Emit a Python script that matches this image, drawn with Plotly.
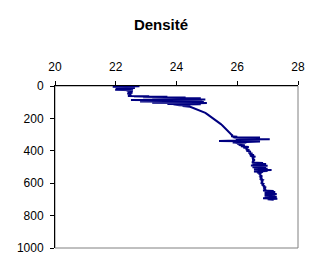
import plotly.graph_objects as go

depth = [0, 2, 4, 6, 9, 12, 15, 18, 21, 23, 26, 30, 34, 38, 42, 46, 50, 54, 58, 61,
         63, 65, 67, 69, 71, 73, 75, 77, 79, 81, 83, 85, 87, 89, 91, 93, 95, 97, 99, 101,
         103, 105, 107, 109, 111, 113, 115, 117, 119, 121, 124, 128, 132, 136, 142, 150,
         158, 166, 175, 185, 195, 205, 215, 225, 235, 245, 255, 265, 275, 285, 295, 302,
         306, 310, 313, 316, 318, 320, 323, 326, 329, 331, 334, 337, 340, 342, 344, 346,
         348, 350, 352, 355, 358, 361, 364, 368, 372, 376, 380, 385, 390, 395, 400, 405,
         410, 416, 421, 426, 431, 436, 441, 446, 452, 457, 462, 467, 472, 475, 478, 481,
         484, 487, 490, 493, 496, 499, 502, 505, 508, 511, 514, 517, 519, 522, 525, 528,
         531, 534, 537, 540, 545, 550, 556, 562, 568, 574, 580, 586, 592, 598, 604, 610,
         616, 621, 625, 629, 633, 637, 641, 645, 648, 651, 654, 657, 660, 663, 666, 669,
         672, 675, 678, 681, 684, 687, 690, 693, 696, 699, 702]

density = [22.0, 22.78, 21.9, 22.6, 22.1, 22.63, 22.3, 22.0, 22.57, 21.98, 22.5, 22.36,
           22.56, 22.4, 22.55, 22.38, 22.5, 22.42, 22.52, 22.4,
           23.1, 22.6, 23.7, 22.9, 24.3, 23.2, 24.8, 23.6, 24.6, 23.7, 24.95, 23.9, 22.5,
           24.85, 23.8, 24.7, 22.8, 24.8, 23.5, 24.9,
           23.2, 25.0, 23.9, 24.7, 23.7, 24.8, 23.9, 24.5, 24.1, 24.45, 24.2, 24.45, 24.5,
           24.58, 24.67, 24.77,
           24.85, 24.95, 25.02, 25.1, 25.18, 25.23, 25.32, 25.4, 25.46, 25.52, 25.57, 25.62,
           25.66, 25.72, 25.78, 25.82,
           25.85, 25.8, 26.0, 25.85, 26.75, 25.9, 26.3, 25.95, 27.07, 25.95, 26.4, 26.0,
           25.4, 26.75, 25.9, 26.2,
           25.85, 26.3, 25.95, 26.25, 26.0, 26.2, 26.05, 26.25, 26.12, 26.38, 26.2, 26.35,
           26.28, 26.4, 26.3, 26.45,
           26.36, 26.5, 26.4, 26.55, 26.42, 26.6, 26.48, 26.55, 26.5, 26.58, 26.5, 26.55,
           26.48, 26.85, 26.5, 26.95,
           26.55, 26.85, 26.45, 27.0, 26.55, 26.9, 26.5, 26.95, 26.6, 27.0, 26.55, 26.9,
           27.13, 26.6, 27.0, 26.55,
           26.85, 26.65, 26.8, 26.7, 26.78, 26.74, 26.82, 26.76, 26.8, 26.77, 26.84, 26.8,
           26.83, 26.8, 26.86, 26.83,
           26.88, 26.85, 26.95, 26.86, 26.92, 26.88, 26.95, 26.85, 27.2, 26.9, 27.25, 26.95,
           27.15, 26.9, 27.3, 26.95,
           27.2, 26.9, 27.25, 26.95, 27.3, 26.9, 27.2, 26.85, 27.32, 27.0, 27.2]

x_ticks = [20, 22, 24, 26, 28]
y_ticks = [0, 200, 400, 600, 800, 1000]

fig = go.Figure()
fig.add_trace(go.Scatter(x=density, y=depth, mode="lines",
                         line=dict(color="#000080", width=2), hoverinfo="skip"))

font_family = "Liberation Sans, Arial, sans-serif"

fig.update_layout(
    width=322, height=274,
    margin=dict(l=55, r=24, t=86, b=26),
    paper_bgcolor="white", plot_bgcolor="white",
    showlegend=False,
    font=dict(family=font_family, size=12, color="black"),
    title=dict(text="<b>Densité</b>", x=0.5, xanchor="center",
               y=1 - 24.5 / 274, yanchor="middle", yref="container",
               font=dict(family=font_family, size=15, color="black")),
    xaxis=dict(side="top", range=[20, 28], tickvals=x_ticks,
               ticktext=[str(v) for v in x_ticks],
               showgrid=False, zeroline=False, showline=True, linecolor="black",
               linewidth=1, ticks="outside", ticklen=4, tickcolor="black",
               ticklabelstandoff=5,
               tickfont=dict(size=12)),
    yaxis=dict(range=[1000, 0], tickvals=y_ticks,
               ticktext=[str(v) for v in y_ticks],
               showgrid=False, zeroline=False, showline=True, linecolor="black",
               linewidth=1, ticks="outside", ticklen=4, tickcolor="black",
               ticklabelstandoff=4,
               tickfont=dict(size=12)),
    shapes=[dict(type="rect", xref="paper", yref="paper", x0=0, x1=1, y0=0, y1=1,
                 line=dict(color="#808080", width=1), layer="below")],
)

fig.write_html("out.html")
